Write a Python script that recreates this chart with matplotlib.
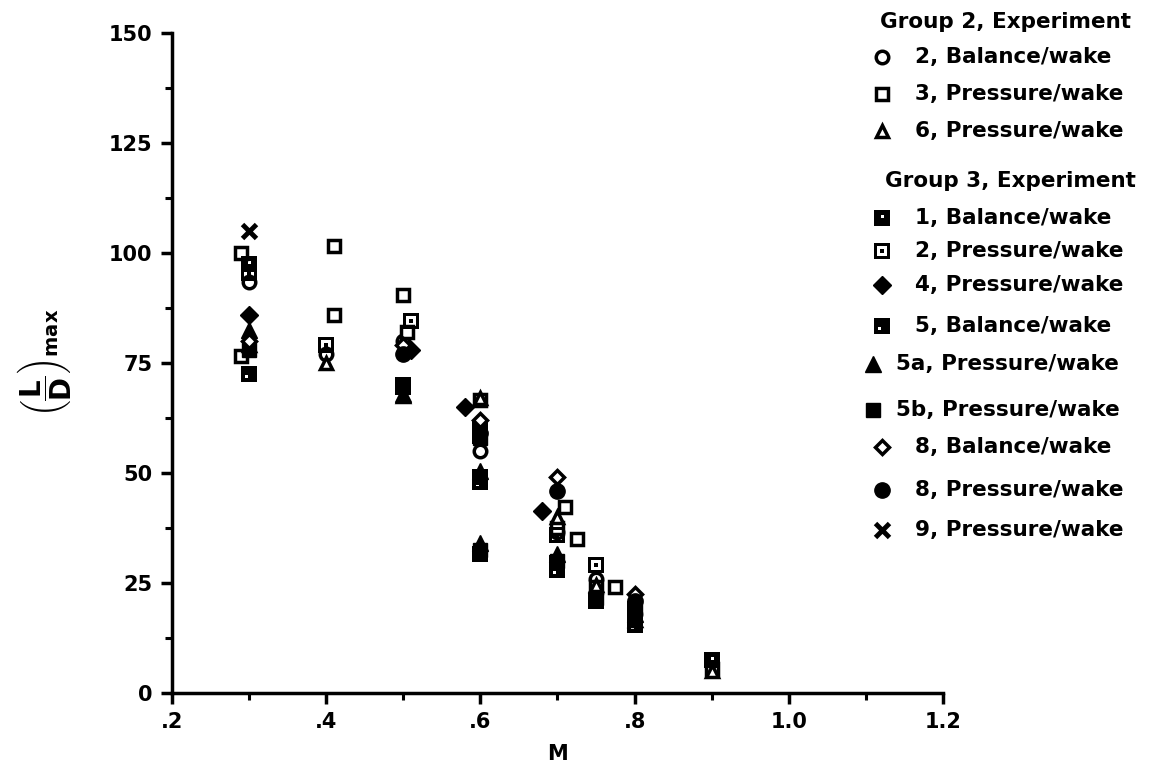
import matplotlib
matplotlib.use('Agg')
import matplotlib.pyplot as plt
from matplotlib.path import Path

plt.rcParams['font.family'] = 'DejaVu Sans'
plt.rcParams['font.weight'] = 'bold'
plt.rcParams['mathtext.fontset'] = 'custom'
plt.rcParams['mathtext.rm'] = 'DejaVu Sans:bold'
plt.rcParams['mathtext.it'] = 'DejaVu Sans:bold'
plt.rcParams['mathtext.bf'] = 'DejaVu Sans:bold'

# Group 2
g2_bal2_m = [0.30, 0.40, 0.50, 0.60, 0.70, 0.75, 0.80]
g2_bal2_ld = [93.5, 77, 80, 55, 36.5, 25.8, 18]
g2_pr3_m = [0.29, 0.29, 0.41, 0.41, 0.50, 0.505, 0.60, 0.71, 0.70, 0.725, 0.75, 0.775, 0.90]
g2_pr3_ld = [100, 76.5, 101.5, 86, 90.5, 82, 66.5, 42.3, 37.5, 35, 24, 24, 5.5]
g2_pr6_m = [0.30, 0.40, 0.50, 0.60, 0.70, 0.75, 0.80, 0.90]
g2_pr6_ld = [79, 75, 67.5, 67, 40, 24.5, 16.5, 5]

# Group 3
g3_bal1_m = [0.30, 0.50, 0.60, 0.60, 0.60, 0.70, 0.75, 0.80, 0.90]
g3_bal1_ld = [97.5, 69.5, 60, 49, 31.5, 29.5, 21, 19, 7.5]
g3_pr2_m = [0.30, 0.40, 0.51, 0.60, 0.70, 0.75]
g3_pr2_ld = [95.5, 79, 84.5, 58.5, 36, 29]
g3_pr4_m = [0.30, 0.51, 0.58, 0.68]
g3_pr4_ld = [86, 78, 65, 41.3]
g3_bal5_m = [0.30, 0.50, 0.60, 0.70, 0.80]
g3_bal5_ld = [72.5, 70, 48, 28, 15.5]
g3_pr5a_m = [0.30, 0.50, 0.60, 0.60, 0.70, 0.80]
g3_pr5a_ld = [82.5, 68, 50.5, 34, 31.5, 18]
g3_pr5b_m = [0.30, 0.60, 0.60, 0.70, 0.75, 0.80]
g3_pr5b_ld = [78, 58, 32.5, 30, 21.5, 20]
g3_bal8_m = [0.30, 0.50, 0.60, 0.70, 0.80]
g3_bal8_ld = [80, 79, 62, 49, 22.5]
g3_pr8_m = [0.50, 0.60, 0.70, 0.80]
g3_pr8_ld = [77, 59, 46, 21]
g3_pr9_m = [0.30]
g3_pr9_ld = [105]


def box(cx, cy, h, ccw=True):
    pts = [(cx - h, cy - h), (cx + h, cy - h), (cx + h, cy + h), (cx - h, cy + h)]
    if not ccw:
        pts = pts[::-1]
    return pts + [pts[0]], [Path.MOVETO, Path.LINETO, Path.LINETO, Path.LINETO, Path.CLOSEPOLY]


def make_marker(parts):
    v, c = [], []
    for p in parts:
        pv, pc = box(*p)
        v += pv
        c += pc
    return Path(v, c)


# filled square with a small hole, square with a dot
speck_c = make_marker([(0, 0, 0.5), (0.05, 0.08, 0.09, False)])
speck_ll = make_marker([(0, 0, 0.5), (-0.15, -0.15, 0.09, False)])
sq_dot = make_marker([(0, 0, 0.5), (0, 0, 0.28, False), (0, 0, 0.1)])

open_kw = dict(mfc='white', mec='black', mew=2.5)
solid_kw = dict(mfc='black', mec='black', mew=0)

series = [
    ('2, Balance/wake', g2_bal2_m, g2_bal2_ld, dict(marker='o', ms=9, **open_kw)),
    ('3, Pressure/wake', g2_pr3_m, g2_pr3_ld, dict(marker='s', ms=9, **open_kw)),
    ('6, Pressure/wake', g2_pr6_m, g2_pr6_ld, dict(marker='^', ms=9, **open_kw)),
    ('1, Balance/wake', g3_bal1_m, g3_bal1_ld, dict(marker=speck_c, ms=12, **solid_kw)),
    ('2, Pressure/wake', g3_pr2_m, g3_pr2_ld, dict(marker=sq_dot, ms=12, **solid_kw)),
    ('4, Pressure/wake', g3_pr4_m, g3_pr4_ld, dict(marker='D', ms=9, mfc='black', mec='black', mew=1)),
    ('5, Balance/wake', g3_bal5_m, g3_bal5_ld, dict(marker=speck_ll, ms=12, **solid_kw)),
    ('5a, Pressure/wake', g3_pr5a_m, g3_pr5a_ld, dict(marker='^', ms=11, mfc='black', mec='black', mew=1)),
    ('5b, Pressure/wake', g3_pr5b_m, g3_pr5b_ld, dict(marker='s', ms=10, mfc='black', mec='black', mew=1)),
    ('8, Balance/wake', g3_bal8_m, g3_bal8_ld, dict(marker='D', ms=7, **open_kw)),
    ('8, Pressure/wake', g3_pr8_m, g3_pr8_ld, dict(marker='o', ms=11, mfc='black', mec='black', mew=1)),
    ('9, Pressure/wake', g3_pr9_m, g3_pr9_ld, dict(marker='x', ms=10, mec='black', mew=3.5)),
]

fig = plt.figure(figsize=(11.51, 7.70), dpi=100)
ax = fig.add_axes([172 / 1151, 1 - 693 / 770, (943 - 172) / 1151, (693 - 33) / 770])

for label, m, ld, st in series:
    ax.plot(m, ld, ls='none', zorder=3, clip_on=False, **st)

ax.set_xlim(0.2, 1.2)
ax.set_ylim(0, 150)
ax.set_xticks([0.2, 0.4, 0.6, 0.8, 1.0, 1.2])
ax.set_xticklabels(['.2', '.4', '.6', '.8', '1.0', '1.2'])
ax.set_xticks([0.3, 0.5, 0.7, 0.9, 1.1], minor=True)
ax.set_yticks([0, 25, 50, 75, 100, 125, 150])
ax.set_yticks([12.5, 37.5, 62.5, 87.5, 112.5, 137.5], minor=True)
ax.spines['top'].set_visible(False)
ax.spines['right'].set_visible(False)
for s in ['left', 'bottom']:
    ax.spines[s].set_linewidth(2.5)
ax.tick_params(which='major', length=8, width=2.5, labelsize=15, pad=6)
ax.tick_params(which='minor', length=5, width=2.2)

ax.set_xlabel('M', fontsize=15, fontweight='bold', labelpad=8)
ax.set_ylabel(r'$\left(\dfrac{L}{D}\right)_{max}$', fontsize=20, labelpad=26)

# legend drawn by hand on the right side
row_y = [57, 94, 131, 218, 251, 285, 326, 364, 410, 447, 490, 530]
head_y = [22, 181]
fig.text(880 / 1151, 1 - head_y[0] / 770, 'Group 2, Experiment', fontsize=15.5, va='center')
fig.text(885 / 1151, 1 - head_y[1] / 770, 'Group 3, Experiment', fontsize=15.5, va='center')
for (label, m, ld, st), y in zip(series, row_y):
    short = label.startswith('5a') or label.startswith('5b')
    mx = 873 if short else 882
    tx = 896 if short else 915
    ax.plot([mx / 1151], [1 - y / 770], ls='none', transform=fig.transFigure,
            clip_on=False, **st)
    fig.text(tx / 1151, 1 - y / 770, label, fontsize=15.5, va='center')

fig.savefig('out.png', dpi=100)
